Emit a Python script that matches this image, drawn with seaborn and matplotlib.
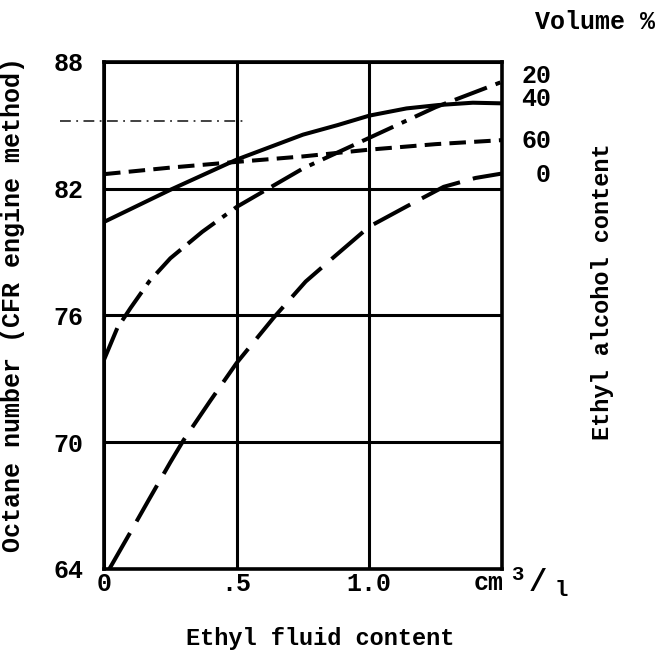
import matplotlib
matplotlib.use('Agg')
import matplotlib.pyplot as plt
import seaborn as sns
import pandas as pd

# ---- data ----
fluid_20 = [0, 0.05, 0.1, 0.17, 0.25, 0.37, 0.5, 0.75, 1.0, 1.25, 1.5]
octane_20 = [73.9, 75.4, 76.35, 77.6, 78.7, 79.95, 81.13, 82.95, 84.4, 85.85, 87.05]
fluid_40 = [0, 0.25, 0.5, 0.75, 0.88, 1.0, 1.14, 1.26, 1.39, 1.5]
octane_40 = [80.42, 81.94, 83.37, 84.55, 85.0, 85.45, 85.79, 85.95, 86.06, 86.03]
fluid_60 = [0, 0.25, 0.5, 0.75, 1.0, 1.25, 1.5]
octane_60 = [82.68, 82.99, 83.26, 83.52, 83.84, 84.1, 84.29]
fluid_0 = [0.02, 0.1, 0.17, 0.25, 0.3, 0.4, 0.5, 0.64, 0.76, 0.87, 1.0, 1.14, 1.28, 1.4, 1.5]
octane_0 = [64.0, 65.75, 67.3, 69.05, 70.1, 71.95, 73.75, 75.9, 77.6, 78.8, 80.2, 81.15, 82.08, 82.5, 82.71]

volume_labels = ['20', '40', '60', '0']
volume_label_y = [87.32, 86.25, 84.24, 82.63]

y_ticks = [64, 70, 76, 82, 88]
x_ticks = [0, 0.5, 1.0]
x_tick_labels = ['0', '.5', '1.0']

stray_x = [-0.166, 0.532]
stray_y = [85.2, 85.2]

frames = []
for vol, xs, ys in [('20', fluid_20, octane_20), ('40', fluid_40, octane_40),
                    ('60', fluid_60, octane_60), ('0', fluid_0, octane_0)]:
    frames.append(pd.DataFrame({'fluid': xs, 'octane': ys, 'Volume': vol}))
df = pd.concat(frames, ignore_index=True)

sns.set_theme(style='white')
plt.rcParams['font.family'] = ['Liberation Mono', 'DejaVu Sans Mono', 'DejaVu Sans']
plt.rcParams['font.weight'] = 'bold'

fig = plt.figure(figsize=(6.66, 6.51), dpi=100)
ax = fig.add_axes([0.1562, 0.1260, 0.5976, 0.7792])

dash_map = {'40': '', '60': (4.1, 2.05), '20': (8.5, 2.3, 8.5, 2.3, 1.3, 2.3), '0': (10.3, 3.3)}
sns.lineplot(data=df, x='fluid', y='octane', style='Volume', dashes=dash_map,
             color='black', lw=2.9, estimator=None, sort=False, legend=False, ax=ax)

# stray scan mark
ax.plot(stray_x, stray_y, color='#333333', lw=1.3, dashes=(6, 3, 1, 3), clip_on=False)

ax.set_xlim(0, 1.5)
ax.set_ylim(64, 88)
ax.set_xticks(x_ticks)
ax.set_xticklabels(x_tick_labels)
ax.set_yticks(y_ticks)
ax.set_yticklabels([str(v) for v in y_ticks])
ax.set_xlabel('')
ax.set_ylabel('')
ax.tick_params(axis='y', length=0, pad=15, labelsize=18, labelcolor='black')
ax.tick_params(axis='x', length=0, pad=2, labelsize=18, labelcolor='black')
for lab in ax.get_xticklabels() + ax.get_yticklabels():
    lab.set_fontweight('bold')
ax.grid(True, color='black', lw=2.2)
for sp in ax.spines.values():
    sp.set_color('black')
    sp.set_linewidth(2.6)
    sp.set_visible(True)

for lab, yv in zip(volume_labels, volume_label_y):
    ax.text(1.685, yv, lab, ha='right', va='center', fontsize=18,
            fontweight='bold', color='black', clip_on=False)

fig.text(535 / 666, 1 - 22 / 651, 'Volume %', ha='left', va='center',
         fontsize=18, fontweight='bold', color='black')
fig.text(602 / 666, 1 - 292 / 651, 'Ethyl alcohol content', rotation=90,
         ha='center', va='center', fontsize=17, fontweight='bold', color='black')
fig.text(13 / 666, 1 - 305 / 651, 'Octane number (CFR engine method)', rotation=90,
         ha='center', va='center', fontsize=18, fontweight='bold', color='black')
fig.text(320 / 666, 1 - 638 / 651, 'Ethyl fluid content', ha='center', va='center',
         fontsize=17, fontweight='bold', color='black')
fig.text(489 / 666, 1 - 583 / 651, 'cm', ha='center', va='center',
         fontsize=18, fontweight='bold', color='black')
fig.text(517 / 666, 1 - 574 / 651, '3', ha='center', va='center',
         fontsize=15, fontweight='bold', color='black')
fig.text(538 / 666, 1 - 583 / 651, '/', ha='center', va='center',
         fontsize=22, fontweight='bold', color='black')
fig.text(561 / 666, 1 - 591 / 651, 'l', ha='center', va='center',
         fontsize=16, fontweight='bold', color='black')

fig.savefig('out.png', dpi=100, facecolor='white')
